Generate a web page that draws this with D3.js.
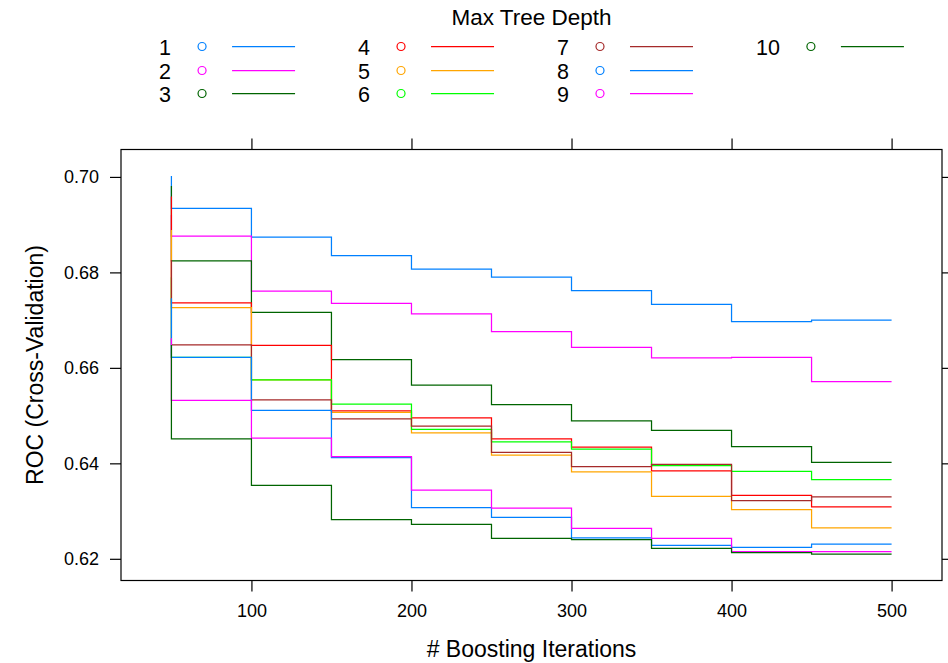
<!DOCTYPE html>
<html>
<head>
<meta charset="utf-8">
<script src="https://cdn.jsdelivr.net/npm/d3@7"></script>
<style>
  body { margin: 0; background: #fff; }
  svg { display: block; font-family: "Liberation Sans", Arial, sans-serif; }
</style>
</head>
<body>
<svg id="chart" width="948" height="663"></svg>
<script>
// Boosting iterations on the x axis
const iterations = [50, 100, 150, 200, 250, 300, 350, 400, 450, 500];

// Max tree depth levels (legend)
const depths = ['1', '2', '3', '4', '5', '6', '7', '8', '9', '10'];

// ROC (Cross-Validation) for each depth
const rocDepth1  = [0.7002, 0.6934, 0.6874, 0.6835, 0.6807, 0.6790, 0.6762, 0.6733, 0.6697, 0.6700];
const rocDepth2  = [0.6920, 0.6876, 0.6761, 0.6735, 0.6713, 0.6676, 0.6643, 0.6621, 0.6622, 0.6571];
const rocDepth3  = [0.6981, 0.6824, 0.6716, 0.6617, 0.6564, 0.6523, 0.6489, 0.6469, 0.6435, 0.6402];
const rocDepth4  = [0.6959, 0.6736, 0.6647, 0.6510, 0.6495, 0.6451, 0.6434, 0.6384, 0.6333, 0.6309];
const rocDepth5  = [0.6889, 0.6726, 0.6575, 0.6507, 0.6464, 0.6417, 0.6382, 0.6331, 0.6303, 0.6265];
const rocDepth6  = [0.6790, 0.6622, 0.6575, 0.6524, 0.6471, 0.6445, 0.6430, 0.6395, 0.6383, 0.6366];
const rocDepth7  = [0.6826, 0.6648, 0.6533, 0.6493, 0.6478, 0.6423, 0.6393, 0.6398, 0.6322, 0.6330];
const rocDepth8  = [0.6746, 0.6622, 0.6511, 0.6412, 0.6307, 0.6287, 0.6244, 0.6228, 0.6224, 0.6231];
const rocDepth9  = [0.6662, 0.6532, 0.6453, 0.6414, 0.6344, 0.6306, 0.6264, 0.6243, 0.6215, 0.6215];
const rocDepth10 = [0.6648, 0.6451, 0.6354, 0.6282, 0.6272, 0.6243, 0.6240, 0.6222, 0.6213, 0.6210];

const yTicks = [0.62, 0.64, 0.66, 0.68, 0.70];
const xTicks = [100, 200, 300, 400, 500];

// lattice default superpose colours (recycled after 7)
const palette = ['#0080ff', '#ff00ff', '#006400', '#ff0000', '#ffa500', '#00ff00', '#a52a2a'];

const series = [rocDepth1, rocDepth2, rocDepth3, rocDepth4, rocDepth5,
                rocDepth6, rocDepth7, rocDepth8, rocDepth9, rocDepth10]
  .map((vals, i) => ({
    depth: depths[i],
    color: palette[i % palette.length],
    points: vals.map((v, j) => ({ x: iterations[j], y: v }))
  }));

const svg = d3.select('#chart');
const panel = { left: 121, right: 942, top: 149.5, bottom: 580.5 };

// lattice pads the data range by 7% on each side
function padded(extent) {
  const d = (extent[1] - extent[0]) * 0.07;
  return [extent[0] - d, extent[1] + d];
}
const allY = series.flatMap(s => s.points.map(p => p.y));

const x = d3.scaleLinear()
  .domain(padded(d3.extent(iterations)))
  .range([panel.left, panel.right]);
const y = d3.scaleLinear()
  .domain(padded(d3.extent(allY)))
  .range([panel.bottom, panel.top]);

// Axes: ticks on all four sides, labels only left and bottom
const tickLen = 11;
const fmt = d3.format('.2f');

const axes = [
  { ax: d3.axisLeft(y).tickValues(yTicks).tickFormat(fmt).tickPadding(11), tr: `translate(${panel.left},0)` },
  { ax: d3.axisRight(y).tickValues(yTicks).tickFormat(''), tr: `translate(${panel.right},0)` },
  { ax: d3.axisBottom(x).tickValues(xTicks).tickPadding(13), tr: `translate(0,${panel.bottom})` },
  { ax: d3.axisTop(x).tickValues(xTicks).tickFormat(''), tr: `translate(0,${panel.top})` }
];
axes.forEach(a => {
  const g = svg.append('g')
    .attr('transform', a.tr)
    .call(a.ax.tickSize(tickLen).tickSizeOuter(0));
  g.select('.domain').remove();
  g.selectAll('line').attr('stroke', '#000').attr('stroke-width', 1.2);
  g.selectAll('text')
    .attr('fill', '#000')
    .style('font-size', '18px')
    .style('font-family', '"Liberation Sans", Arial, sans-serif');
});

// Step lines
const line = d3.line()
  .x(d => x(d.x))
  .y(d => y(d.y))
  .curve(d3.curveStepBefore);

svg.append('g')
  .selectAll('path')
  .data(series)
  .join('path')
  .attr('d', d => line(d.points))
  .attr('fill', 'none')
  .attr('stroke', d => d.color)
  .attr('stroke-width', 1.25);

// Panel border
svg.append('rect')
  .attr('x', panel.left)
  .attr('y', panel.top)
  .attr('width', panel.right - panel.left)
  .attr('height', panel.bottom - panel.top)
  .attr('fill', 'none')
  .attr('stroke', '#000')
  .attr('stroke-width', 1.2);

// Axis titles
const midX = (panel.left + panel.right) / 2;
const midY = (panel.top + panel.bottom) / 2;

svg.append('text')
  .attr('x', midX)
  .attr('y', 657)
  .attr('text-anchor', 'middle')
  .style('font-size', '23px')
  .text('# Boosting Iterations');

svg.append('text')
  .attr('transform', `translate(43,${midY}) rotate(-90)`)
  .attr('text-anchor', 'middle')
  .style('font-size', '23px')
  .text('ROC (Cross-Validation)');

// Legend on top
svg.append('text')
  .attr('x', midX)
  .attr('y', 25)
  .attr('text-anchor', 'middle')
  .style('font-size', '22.5px')
  .text('Max Tree Depth');

const legend = svg.append('g');
const rowsPerCol = 3;
const nCols = Math.ceil(series.length / rowsPerCol);
const rowY = r => Math.round(46 + r * 23.5) + 0.5;
let cursor = 0;

for (let c = 0; c < nCols; c++) {
  const items = series.slice(c * rowsPerCol, (c + 1) * rowsPerCol);
  const col = legend.append('g');
  const labels = col.selectAll('text')
    .data(items)
    .join('text')
    .attr('x', cursor)
    .attr('y', (d, r) => rowY(r) + 8)
    .style('font-size', '21.5px')
    .text(d => d.depth);
  const maxW = d3.max(labels.nodes(), n => n.getComputedTextLength());
  const cx = cursor + maxW + 31;
  col.selectAll('circle')
    .data(items)
    .join('circle')
    .attr('cx', cx)
    .attr('cy', (d, r) => rowY(r))
    .attr('r', 4)
    .attr('fill', 'none')
    .attr('stroke', d => d.color)
    .attr('stroke-width', 1.2);
  col.selectAll('line')
    .data(items)
    .join('line')
    .attr('x1', cx + 30)
    .attr('x2', cx + 93)
    .attr('y1', (d, r) => rowY(r))
    .attr('y2', (d, r) => rowY(r))
    .attr('stroke', d => d.color)
    .attr('stroke-width', 1.25);
  cursor = cx + 93 + 63;
}
const legendWidth = cursor - 63;
legend.attr('transform', `translate(${midX - legendWidth / 2},0)`);
</script>
</body>
</html>
